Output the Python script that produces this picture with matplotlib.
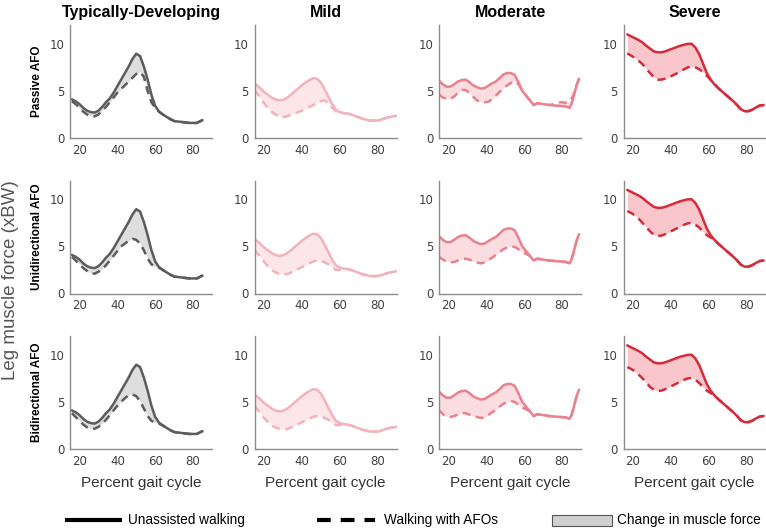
"""
Leg muscle force with and without AFOs, by impairment group.
3 rows (AFO type) x 4 columns (group).
"""

import matplotlib
matplotlib.use("Agg")
import matplotlib.pyplot as plt
from matplotlib.lines import Line2D
from matplotlib.patches import Rectangle


# ===================
#  DATA
# ===================

GROUPS   = ["Typically-Developing", "Mild", "Moderate", "Severe"]
AFO_ROWS = ["Passive AFO", "Unidirectional AFO", "Bidirectional AFO"]

# -- Typically-developing
td_x = [16, 18, 20, 22, 24, 26, 28, 30, 32, 34, 36, 38, 40, 42, 44, 46, 48,
        50, 52, 54, 56, 58, 60, 62, 64, 66, 68, 70, 74, 78, 82, 85]
td_unassisted = [4.1, 3.9, 3.6, 3.2, 2.9, 2.75, 2.7, 2.9, 3.3, 3.8, 4.2, 4.8,
                 5.5, 6.2, 6.9, 7.6, 8.4, 8.95, 8.7, 7.6, 6.2, 4.6, 3.4, 2.8,
                 2.5, 2.25, 2.0, 1.8, 1.7, 1.6, 1.6, 1.9]
td_passive = [3.9, 3.6, 3.2, 2.8, 2.5, 2.3, 2.3, 2.5, 2.9, 3.3, 3.8, 4.3,
              4.8, 5.2, 5.6, 6.0, 6.4, 6.8, 7.0, 6.5, 5.0, 3.8, 3.2, 2.8,
              2.5, 2.25, 2.0, 1.8, 1.7, 1.6, 1.6, 1.9]
td_uni = [3.9, 3.5, 3.1, 2.7, 2.4, 2.15, 2.1, 2.3, 2.6, 3.0, 3.5, 4.0,
          4.5, 5.0, 5.3, 5.6, 5.8, 5.7, 5.3, 4.6, 3.7, 3.1, 2.85, 2.75,
          2.5, 2.25, 2.0, 1.8, 1.7, 1.6, 1.6, 1.9]
td_bi = [3.8, 3.4, 3.0, 2.6, 2.3, 2.15, 2.15, 2.35, 2.7, 3.1, 3.6, 4.1,
         4.6, 5.0, 5.4, 5.7, 5.8, 5.6, 5.1, 4.3, 3.5, 3.0, 2.8, 2.7,
         2.5, 2.25, 2.0, 1.8, 1.7, 1.6, 1.6, 1.9]

# -- Mild
mild_x = [15, 18, 20, 22, 24, 26, 28, 30, 32, 34, 36, 38, 40, 42, 44, 46, 48,
          50, 52, 54, 56, 58, 60, 62, 64, 66, 68, 70, 72, 74, 76, 78, 80, 82,
          84, 86, 88, 90]
mild_unassisted = [5.8, 5.3, 4.9, 4.6, 4.3, 4.1, 4.0, 4.05, 4.25, 4.55, 4.9,
                   5.25, 5.6, 5.9, 6.15, 6.35, 6.3, 5.9, 5.2, 4.4, 3.6, 3.0,
                   2.75, 2.65, 2.6, 2.5, 2.35, 2.2, 2.05, 1.95, 1.85, 1.85,
                   1.85, 1.95, 2.1, 2.2, 2.3, 2.35]
mild_passive = [5.1, 4.3, 3.7, 3.2, 2.8, 2.5, 2.3, 2.2, 2.3, 2.45, 2.6, 2.75,
                2.9, 3.1, 3.3, 3.5, 3.7, 3.9, 4.0, 3.7, 3.2, 2.85, 2.75,
                2.65, 2.6, 2.5, 2.35, 2.2, 2.05, 1.95, 1.85, 1.85, 1.85,
                1.95, 2.1, 2.2, 2.3, 2.35]
mild_uni = [4.65, 3.9, 3.4, 2.9, 2.5, 2.25, 2.1, 2.0, 2.05, 2.2, 2.4, 2.6,
            2.8, 3.0, 3.2, 3.4, 3.5, 3.45, 3.3, 3.1, 2.8, 2.5, 2.5, 2.6,
            2.6, 2.5, 2.35, 2.2, 2.05, 1.95, 1.85, 1.85, 1.85, 1.95, 2.1,
            2.2, 2.3, 2.35]
mild_bi = [4.6, 3.8, 3.3, 2.9, 2.5, 2.3, 2.15, 2.1, 2.1, 2.25, 2.45, 2.65,
           2.85, 3.05, 3.25, 3.4, 3.5, 3.45, 3.3, 3.1, 2.8, 2.55, 2.55, 2.6,
           2.6, 2.5, 2.35, 2.2, 2.05, 1.95, 1.85, 1.85, 1.85, 1.95, 2.1,
           2.2, 2.3, 2.35]

# -- Moderate
mod_x = [15, 17, 19, 21, 23, 25, 27, 29, 31, 33, 35, 37, 39, 41, 43, 45, 47,
         49, 51, 53, 55, 57, 59, 61, 63, 65, 67, 70, 73, 76, 79, 82, 84, 85,
         86, 87, 88, 89]
mod_unassisted = [6.1, 5.7, 5.45, 5.45, 5.7, 6.0, 6.15, 6.2, 5.95, 5.6, 5.4,
                  5.25, 5.3, 5.55, 5.8, 6.0, 6.35, 6.75, 6.9, 6.9, 6.7, 5.9,
                  5.0, 4.5, 4.0, 3.5, 3.7, 3.6, 3.5, 3.45, 3.4, 3.35, 3.2,
                  3.6, 4.3, 5.1, 5.8, 6.3]
mod_passive = [4.6, 4.3, 4.15, 4.15, 4.4, 4.8, 5.1, 5.1, 4.8, 4.4, 4.0, 3.8,
               3.8, 3.85, 4.1, 4.5, 4.9, 5.3, 5.6, 5.85, 6.0, 5.7, 5.0, 4.5,
               4.0, 3.5, 3.7, 3.6, 3.5, 3.6, 3.8, 3.75, 3.9, 4.2, 4.6, 5.2,
               5.8, 6.3]
mod_uni = [3.9, 3.6, 3.4, 3.3, 3.35, 3.5, 3.65, 3.7, 3.6, 3.45, 3.3, 3.2,
           3.3, 3.55, 3.8, 4.1, 4.4, 4.7, 4.9, 5.0, 4.95, 4.7, 4.4, 4.2,
           4.0, 3.5, 3.7, 3.6, 3.5, 3.45, 3.4, 3.35, 3.2, 3.6, 4.3, 5.1,
           5.8, 6.3]
mod_bi = [4.15, 3.7, 3.45, 3.4, 3.5, 3.65, 3.8, 3.8, 3.65, 3.5, 3.4, 3.3,
          3.35, 3.6, 3.9, 4.15, 4.5, 4.8, 5.0, 5.1, 5.0, 4.7, 4.4, 4.2,
          4.0, 3.5, 3.7, 3.6, 3.5, 3.45, 3.4, 3.35, 3.2, 3.6, 4.3, 5.1,
          5.8, 6.3]

# -- Severe
sev_x = [17, 19, 21, 23, 25, 27, 29, 31, 33, 35, 37, 39, 41, 43, 45, 47, 49,
         51, 53, 55, 57, 59, 61, 63, 65, 67, 69, 71, 73, 75, 77, 79, 81, 83,
         85, 87, 89]
sev_unassisted = [11.0, 10.8, 10.6, 10.4, 10.15, 9.8, 9.5, 9.2, 9.1, 9.1,
                  9.2, 9.35, 9.5, 9.65, 9.8, 9.9, 10.0, 10.0, 9.6, 8.9, 7.9,
                  6.9, 6.2, 5.7, 5.3, 4.95, 4.6, 4.25, 3.9, 3.5, 3.05, 2.85,
                  2.85, 3.0, 3.25, 3.45, 3.5]
sev_passive = [9.0, 8.75, 8.5, 8.2, 7.85, 7.35, 6.9, 6.45, 6.2, 6.2, 6.3,
               6.45, 6.65, 6.85, 7.05, 7.3, 7.5, 7.6, 7.5, 7.3, 7.0, 6.6,
               6.2, 5.75, 5.3, 4.95, 4.6, 4.25, 3.9, 3.5, 3.05, 2.85, 2.85,
               3.0, 3.25, 3.45, 3.5]
sev_uni = [8.75, 8.55, 8.3, 7.95, 7.5, 7.05, 6.6, 6.25, 6.1, 6.15, 6.3, 6.5,
           6.7, 6.9, 7.1, 7.3, 7.45, 7.5, 7.3, 7.0, 6.6, 6.2, 5.95, 5.7,
           5.3, 4.95, 4.6, 4.25, 3.9, 3.5, 3.05, 2.85, 2.85, 3.0, 3.25,
           3.45, 3.5]
sev_bi = [8.7, 8.5, 8.25, 7.9, 7.5, 7.05, 6.6, 6.3, 6.15, 6.2, 6.35, 6.55,
          6.75, 6.95, 7.15, 7.35, 7.5, 7.55, 7.35, 7.0, 6.6, 6.2, 5.95, 5.7,
          5.3, 4.95, 4.6, 4.25, 3.9, 3.5, 3.05, 2.85, 2.85, 3.0, 3.25,
          3.45, 3.5]

X_TICKS = [20, 40, 60, 80]
Y_TICKS = [0, 5, 10]

COLUMNS = [
    (td_x,   td_unassisted,   [td_passive,   td_uni,   td_bi]),
    (mild_x, mild_unassisted, [mild_passive, mild_uni, mild_bi]),
    (mod_x,  mod_unassisted,  [mod_passive,  mod_uni,  mod_bi]),
    (sev_x,  sev_unassisted,  [sev_passive,  sev_uni,  sev_bi]),
]

LINE_COLORS = ["#5c5c5c", "#f2b3bd", "#e8828e", "#d52b3b"]
FILL_COLORS = ["#dedede", "#fce6ea", "#fbdce0", "#f8c6cb"]

SANS = ["Liberation Sans", "DejaVu Sans"]


# ===================
#  PLOTTING
# ===================

def px(x, y):
    """pixel position (from top-left) -> figure fraction"""
    return x / 766.0, 1.0 - y / 530.0


def main():
    fig = plt.figure(figsize=(7.66, 5.30), dpi=100)

    lefts   = [70, 254.5, 439, 623.5]
    bottoms = [138, 293.5, 449]
    w, h = 142 / 766.0, 113 / 530.0

    for r, afo in enumerate(AFO_ROWS):
        for c, (x, base, afos) in enumerate(COLUMNS):
            l, b = px(lefts[c], bottoms[r])
            ax = fig.add_axes([l, b, w, h])
            y_afo = afos[r]
            ax.fill_between(x, base, y_afo, color=FILL_COLORS[c], lw=0)
            ax.plot(x, base, color=LINE_COLORS[c], lw=1.8,
                    solid_capstyle="round")
            ax.plot(x, y_afo, color=LINE_COLORS[c], lw=1.8,
                    linestyle=(0, (3.2, 2.2)))

            ax.set_xlim(15, 90)
            ax.set_ylim(0, 12)
            ax.set_xticks(X_TICKS)
            ax.set_yticks(Y_TICKS)
            for s in ("top", "right"):
                ax.spines[s].set_visible(False)
            for s in ("left", "bottom"):
                ax.spines[s].set_color("#8c8c8c")
                ax.spines[s].set_linewidth(1.0)
            ax.tick_params(length=0, pad=4, labelsize=8.5,
                           labelcolor="#404040")

            if r == 0:
                ax.set_title(GROUPS[c], fontsize=11.5, fontweight="bold",
                             family=SANS, pad=6)
            if c == 0:
                ax.text(-0.23, 0.5, afo, transform=ax.transAxes,
                        rotation=90, ha="center", va="center",
                        fontsize=8.5, fontweight="bold", family=SANS)
            if r == len(AFO_ROWS) - 1:
                ax.set_xlabel("Percent gait cycle", fontsize=11,
                              family=SANS, color="#333333", labelpad=6)

    # y label for the whole grid
    fig.text(*px(11, 280), "Leg muscle force (xBW)", rotation=90,
             ha="center", va="center", fontsize=13.5, family=SANS,
             color="#555555")

    # ── legend along the bottom ─────────────────────────────────
    y_leg = 520
    x0, y0 = px(65, y_leg); x1, _ = px(122, y_leg)
    fig.add_artist(Line2D([x0, x1], [y0, y0], color="black", lw=3.0,
                          solid_capstyle="butt",
                          transform=fig.transFigure))
    fig.text(*px(128, y_leg), "Unassisted walking", fontsize=9.8,
             family=SANS, va="center")

    x0, _ = px(317, y_leg); x1, _ = px(375, y_leg)
    fig.add_artist(Line2D([x0, x1], [y0, y0], color="black", lw=3.0,
                          linestyle=(0, (3.3, 2.4)),
                          transform=fig.transFigure))
    fig.text(*px(384, y_leg), "Walking with AFOs", fontsize=9.8,
             family=SANS, va="center")

    rx, ry = px(552, y_leg + 5.5)
    fig.add_artist(Rectangle((rx, ry), 60 / 766.0, 11 / 530.0,
                             facecolor="#d0d0d0", edgecolor="#555555",
                             lw=0.8, transform=fig.transFigure))
    fig.text(*px(617, y_leg), "Change in muscle force", fontsize=9.8,
             family=SANS, va="center")

    fig.savefig("out.png", dpi=100)


if __name__ == "__main__":
    main()
